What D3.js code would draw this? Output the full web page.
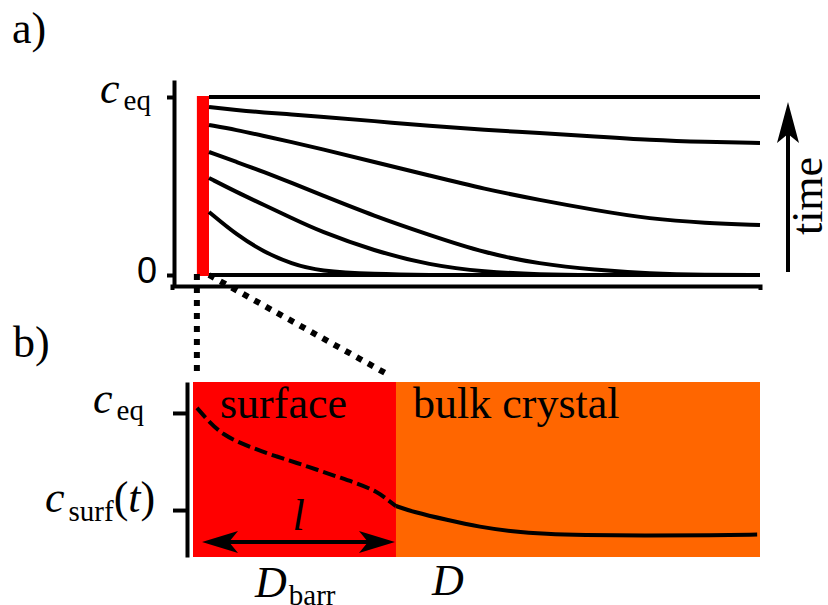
<!DOCTYPE html>
<html>
<head>
<meta charset="utf-8">
<script src="https://cdn.jsdelivr.net/npm/d3@7"></script>
<style>
  html, body { margin: 0; padding: 0; background: #fff; }
  svg { display: block; }
</style>
</head>
<body>
<svg id="fig" width="828" height="605"></svg>
<script>
// ---- Panel a: concentration profiles c(x) at successive times (units of c_eq) ----
const depthA = [0, 0.05, 0.1, 0.15, 0.2, 0.3, 0.4, 0.5, 0.6, 0.7, 0.8, 0.9, 1.0];
const profileT0 = [0, 0, 0, 0, 0, 0, 0, 0, 0, 0, 0, 0, 0];
const profileT1 = [0.354, 0.225, 0.129, 0.062, 0.022, 0.004, 0, 0, 0, 0, 0, 0, 0];
const profileT2 = [0.545, 0.466, 0.393, 0.320, 0.247, 0.135, 0.056, 0.017, 0.003, 0, 0, 0, 0];
const profileT3 = [0.691, 0.635, 0.579, 0.517, 0.455, 0.331, 0.225, 0.124, 0.062, 0.028, 0.008, 0, 0];
const profileT4 = [0.843, 0.815, 0.781, 0.747, 0.711, 0.635, 0.559, 0.483, 0.421, 0.365, 0.315, 0.292, 0.281];
const profileT5 = [0.944, 0.927, 0.913, 0.902, 0.890, 0.865, 0.837, 0.815, 0.798, 0.778, 0.758, 0.747, 0.742];
const profileT6 = [1, 1, 1, 1, 1, 1, 1, 1, 1, 1, 1, 1, 1];
const profilesA = [profileT0, profileT1, profileT2, profileT3, profileT4, profileT5, profileT6];
const surfaceWidthA = 0.022;          // thickness of the surface layer (red strip)
const yTicksA = [1, 0];

// ---- Panel b: profile across the surface barrier and into the bulk ----
const depthSurface = [0.007, 0.030, 0.053, 0.083, 0.113, 0.148, 0.183, 0.219, 0.254, 0.289, 0.325, 0.347, 0.358];
const concSurface  = [1.035, 0.931, 0.850, 0.792, 0.745, 0.697, 0.653, 0.606, 0.558, 0.512, 0.455, 0.385, 0.354];
const depthBulk = [0.358, 0.388, 0.448, 0.506, 0.564, 0.624, 0.683, 0.801, 0.917, 0.995];
const concBulk  = [0.354, 0.313, 0.257, 0.208, 0.176, 0.160, 0.152, 0.147, 0.151, 0.156];
const barrierDepth = 0.358;           // l
const cSurf = 0.326;                  // c_surf(t), units of c_eq
const yTicksB = [1, cSurf];
const regionNames = ["surface", "bulk crystal"];
const regionColors = ["#ff0000", "#ff6600"];

const SERIF = "'Liberation Serif'";
const SANS = "'Liberation Sans'";

const svg = d3.select("#fig");
const ink = "#000";
const lw = 4;

// text helper: serif face unless stated otherwise
function label(x, y, size) {
  return svg.append("text").attr("x", x).attr("y", y)
    .attr("font-size", size).attr("font-family", SERIF).attr("fill", ink);
}

// ---------------- Panel a ----------------
const xA = d3.scaleLinear().domain([0, 1]).range([209, 760]);
const yA = d3.scaleLinear().domain([0, 1]).range([275, 97]);
const axisXA = 174, axisYA = 286;

label(12, 43, 44).text("a)");

// surface strip
svg.append("rect")
  .attr("x", xA(-surfaceWidthA)).attr("width", xA(0) - xA(-surfaceWidthA))
  .attr("y", yA(1) - 1).attr("height", yA(0) - yA(1) + 2)
  .attr("fill", "#ff0000");

// y axis
const yAxisScaleA = yA.copy().domain([yA.invert(axisYA), yA.invert(80)]).range([axisYA, 80]);
const gYA = svg.append("g").attr("transform", `translate(${axisXA},0)`)
  .call(d3.axisLeft(yAxisScaleA).tickValues(yTicksA).tickSize(7).tickSizeOuter(0).tickFormat(""));
gYA.selectAll("path, line").attr("stroke", ink).attr("stroke-width", lw);

// x axis
const xAxisScaleA = xA.copy().domain([xA.invert(axisXA - 2), 1]).range([axisXA - 2, xA(1)]);
const gXA = svg.append("g").attr("transform", `translate(0,${axisYA})`)
  .call(d3.axisBottom(xAxisScaleA).tickValues([]).tickSizeOuter(4));
gXA.selectAll("path, line").attr("stroke", ink).attr("stroke-width", lw);

// tick labels
const lblCeqA = label(100, yA(1) + 6, 44);
lblCeqA.append("tspan").attr("font-style", "italic").text("c");
lblCeqA.append("tspan").attr("font-size", 29).attr("dx", 4).attr("dy", 7).text("eq");
label(157, yA(0) + 8, 36).attr("text-anchor", "end").attr("font-family", SANS).text("0");

// profiles
const lineA = d3.line().x((d, i) => xA(depthA[i])).y(d => yA(d)).curve(d3.curveBasis);
svg.append("g").selectAll("path").data(profilesA).join("path")
  .attr("d", lineA).attr("fill", "none").attr("stroke", ink).attr("stroke-width", lw);

// time arrow
const arrX = 788;
svg.append("line").attr("x1", arrX).attr("x2", arrX).attr("y1", 272).attr("y2", 132)
  .attr("stroke", ink).attr("stroke-width", lw);
svg.append("path")
  .attr("d", `M${arrX},102 L${arrX + 11},143 L${arrX},134 L${arrX - 11},143 Z`)
  .attr("fill", ink);
label(0, 0, 44).attr("transform", `translate(822,196) rotate(-90)`)
  .attr("text-anchor", "middle").text("time");

// ---------------- Panel b ----------------
const xB = d3.scaleLinear().domain([0, 1]).range([193, 760]);
const yB = d3.scaleLinear().domain([0, 1.215]).range([557, 382]);
const axisXB = 187;

label(13, 357, 44).text("b)");

// zoom guides from the surface strip of panel a
const guides = [
  [[xA(-surfaceWidthA), yA(0) - 1], [xA(-surfaceWidthA), 373]],
  [[xA(0), yA(0)], [xB(barrierDepth) - 9, 374]]
];
svg.append("g").selectAll("path").data(guides).join("path")
  .attr("d", d => d3.line()(d))
  .attr("stroke", ink).attr("stroke-width", 6).attr("stroke-dasharray", "6,7").attr("fill", "none");

// regions
const regions = [[0, barrierDepth], [barrierDepth, 1]];
svg.append("g").selectAll("rect").data(regions).join("rect")
  .attr("x", d => xB(d[0])).attr("width", d => xB(d[1]) - xB(d[0]))
  .attr("y", yB(1.215)).attr("height", yB(0) - yB(1.215))
  .attr("fill", (d, i) => regionColors[i]);

regionNames.forEach((name, i) => {
  label(xB(regions[i][0]) + (i === 0 ? 27 : 17), 418, 44).text(name);
});

// y axis
const gYB = svg.append("g").attr("transform", `translate(${axisXB},0)`)
  .call(d3.axisLeft(yB).tickValues(yTicksB).tickSize(14).tickSizeOuter(0).tickFormat(""));
gYB.selectAll("path, line").attr("stroke", ink).attr("stroke-width", lw);

const lblCeqB = label(93, yB(1), 44);
lblCeqB.append("tspan").attr("font-style", "italic").text("c");
lblCeqB.append("tspan").attr("font-size", 29).attr("dx", 4).attr("dy", 7).text("eq");

const lblCs = label(45, yB(cSurf) + 2, 44);
lblCs.append("tspan").attr("font-style", "italic").text("c");
lblCs.append("tspan").attr("font-size", 29).attr("dx", 4).attr("dy", 9).text("surf");
lblCs.append("tspan").attr("dy", -9).text("(");
lblCs.append("tspan").attr("font-style", "italic").text("t");
lblCs.append("tspan").text(")");

// profile: dashed through the surface layer, solid in the bulk
const lineB = d3.line().x(d => xB(d[0])).y(d => yB(d[1])).curve(d3.curveBasis);
svg.append("path").datum(d3.zip(depthSurface, concSurface)).attr("d", lineB)
  .attr("fill", "none").attr("stroke", ink).attr("stroke-width", lw).attr("stroke-dasharray", "13,5");
svg.append("path").datum(d3.zip(depthBulk, concBulk)).attr("d", lineB)
  .attr("fill", "none").attr("stroke", ink).attr("stroke-width", lw);

// l: barrier width arrow
const arrY = 542;
const xL0 = xB(0) + 9, xL1 = xB(barrierDepth) - 1;
svg.append("line").attr("x1", xL0 + 20).attr("x2", xL1 - 20).attr("y1", arrY).attr("y2", arrY)
  .attr("stroke", ink).attr("stroke-width", lw);
svg.append("path")
  .attr("d", `M${xL0},${arrY} L${xL0 + 36},${arrY - 11} L${xL0 + 27},${arrY} L${xL0 + 36},${arrY + 11} Z`)
  .attr("fill", ink);
svg.append("path")
  .attr("d", `M${xL1},${arrY} L${xL1 - 36},${arrY - 11} L${xL1 - 27},${arrY} L${xL1 - 36},${arrY + 11} Z`)
  .attr("fill", ink);
label((xL0 + xL1) / 2, 530, 44).attr("text-anchor", "middle").attr("font-style", "italic").text("l");

// diffusivities
const lblDb = label(255, 597, 44);
lblDb.append("tspan").attr("font-style", "italic").text("D");
lblDb.append("tspan").attr("font-size", 29).attr("dx", 2).attr("dy", 8).text("barr");
label(432, 595, 44).attr("font-style", "italic").text("D");
</script>
</body>
</html>
